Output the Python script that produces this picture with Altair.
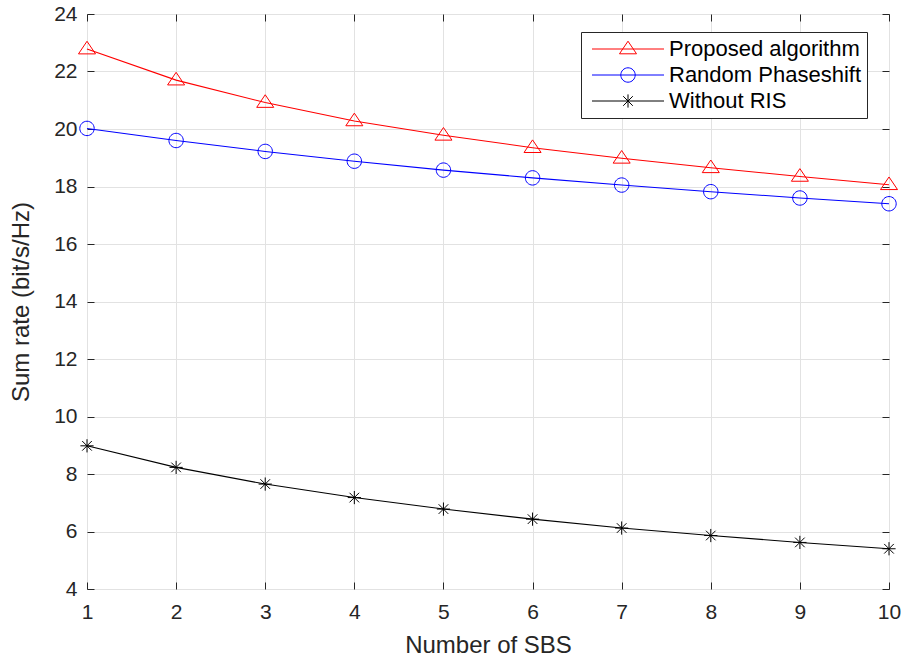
import altair as alt
import pandas as pd

# ---------------- data ----------------
sbs = [1, 2, 3, 4, 5, 6, 7, 8, 9, 10]
proposed = [22.78, 21.70, 20.92, 20.28, 19.78, 19.35, 18.98, 18.65, 18.35, 18.06]
random_ps = [20.02, 19.60, 19.22, 18.88, 18.57, 18.30, 18.05, 17.82, 17.60, 17.40]
without_ris = [8.98, 8.23, 7.65, 7.18, 6.78, 6.43, 6.12, 5.86, 5.62, 5.40]
series_names = ["Proposed algorithm", "Random Phaseshift", "Without RIS"]
series_colors = ["#ff0000", "#0000ff", "#000000"]
y_ticks = list(range(4, 25, 2))
x_ticks = sbs

rows = []
for name, vals in zip(series_names, [proposed, random_ps, without_ris]):
    for x, v in zip(sbs, vals):
        rows.append({"SBS": x, "rate": v, "series": name})
df = pd.DataFrame(rows)

FONT = "Liberation Sans"
AX = "#262626"
GRID = "#e2e2e2"

# marker shapes (custom paths, unit = sqrt(size)/2 px = 6 px)
tri = "M0,-1.3L1.42,0.8L-1.42,0.8Z"
circ = "M1.2,0A1.2,1.2 0 1,1 -1.2,0A1.2,1.2 0 1,1 1.2,0Z"
star = "M-1.1,0H1.1M0,-1.1V1.1M-0.8,-0.8L0.8,0.8M-0.8,0.8L0.8,-0.8"
marker_paths = [tri, circ, star]
# legend symbols: line with marker in the middle
tri_leg = "M-1,0H11M5,-1.3L6.42,0.8L3.58,0.8Z"
circ_leg = "M-1,0H11M6.2,0A1.2,1.2 0 1,1 3.8,0A1.2,1.2 0 1,1 6.2,0Z"
star_leg = "M-1,0H11M5,-1.1V1.1M4.2,-0.8L5.8,0.8M4.2,0.8L5.8,-0.8"
legend_paths = [tri_leg, circ_leg, star_leg]

xscale = alt.Scale(domain=[1, 10], nice=False, zero=False)
yscale = alt.Scale(domain=[4, 24], nice=False, zero=False)
cscale = alt.Scale(domain=series_names, range=series_colors)

base = alt.Chart(df)

# grid-only layer
grid_layer = base.mark_line(strokeOpacity=0).encode(
    x=alt.X("SBS:Q", scale=xscale, axis=alt.Axis(
        orient="bottom", values=x_ticks, grid=True, gridColor=GRID, gridWidth=1,
        labels=False, ticks=False, domain=False, title=None)),
    y=alt.Y("rate:Q", scale=yscale, axis=alt.Axis(
        orient="left", values=y_ticks, grid=True, gridColor=GRID, gridWidth=1,
        labels=False, ticks=False, domain=False, title=None)),
    detail="series:N",
)

x_main = alt.Axis(
    orient="bottom", values=x_ticks, format="d", grid=False, domain=False,
    offset=-7, tickSize=7, tickColor=AX, tickWidth=1, labelFlush=False,
    labelPadding=12, labelFontSize=21, labelFont=FONT, labelColor=AX,
    title="Number of SBS", titleFontSize=24, titleFont=FONT, titleColor=AX,
    titleFontWeight="normal", titlePadding=11)
y_main = alt.Axis(
    orient="left", values=y_ticks, format="d", grid=False, domain=False,
    offset=-7, tickSize=7, tickColor=AX, tickWidth=1, labelFlush=False,
    labelPadding=10, labelFontSize=21, labelFont=FONT, labelColor=AX,
    title="Sum rate (bit/s/Hz)", titleFontSize=24, titleFont=FONT, titleColor=AX,
    titleFontWeight="normal", titlePadding=20)

# lines and markers, one layer per series (constant colours, no legend)
series_layers = []
for i, (name, col, path) in enumerate(zip(series_names, series_colors, marker_paths)):
    sub = base.transform_filter(alt.datum.series == name)
    series_layers.append(
        sub.mark_line(strokeWidth=1.1, color=col).encode(
            x=alt.X("SBS:Q", scale=xscale, axis=x_main if i == 0 else None),
            y=alt.Y("rate:Q", scale=yscale, axis=y_main if i == 0 else None),
        )
    )
    series_layers.append(
        sub.mark_point(filled=False, size=144, strokeWidth=1, opacity=1,
                       shape=path, color=col).encode(
            x=alt.X("SBS:Q", scale=xscale, axis=None),
            y=alt.Y("rate:Q", scale=yscale, axis=None),
        )
    )

legend_def = alt.Legend(
    title=None, orient="none", legendX=494, legendY=18,
    padding=6, strokeColor=AX, fillColor="white",
    labelFont=FONT, labelFontSize=22, labelColor="#000000", labelLimit=500,
    labelOffset=60, symbolSize=144, symbolStrokeWidth=1, rowPadding=4,
)

# layer that only carries the legend (line + marker symbols); its marks sit
# outside the y domain and are clipped away
legend_layer = base.transform_calculate(hidden="datum.rate + 1000").mark_point(
    filled=False, size=144, strokeWidth=1, opacity=1, clip=True
).encode(
    x=alt.X("SBS:Q", scale=xscale, axis=None),
    y=alt.Y("hidden:Q", scale=yscale, axis=None),
    color=alt.Color("series:N", scale=cscale, legend=legend_def),
    shape=alt.Shape("series:N", scale=alt.Scale(domain=series_names, range=legend_paths),
                    legend=legend_def),
)

# top/right inward ticks
box_layer = base.mark_line(strokeOpacity=0).encode(
    x=alt.X("SBS:Q", scale=xscale, axis=alt.Axis(
        orient="top", values=x_ticks, grid=False, domain=False, labels=False,
        offset=-7, tickSize=7, tickColor=AX, tickWidth=1, title=None)),
    y=alt.Y("rate:Q", scale=yscale, axis=alt.Axis(
        orient="right", values=y_ticks, grid=False, domain=False, labels=False,
        offset=-7, tickSize=7, tickColor=AX, tickWidth=1, title=None)),
    detail="series:N",
)

chart = alt.layer(grid_layer, *series_layers, legend_layer, box_layer).resolve_axis(
    x="independent", y="independent"
).properties(
    width=802, height=575,
    autosize=alt.AutoSizeParams(type="none"),
    padding={"left": 87, "top": 14, "right": 17, "bottom": 72},
    background="white",
).configure_view(stroke=AX, strokeWidth=1)

chart.save("out.html", embed_options={"renderer": "svg", "actions": False})
